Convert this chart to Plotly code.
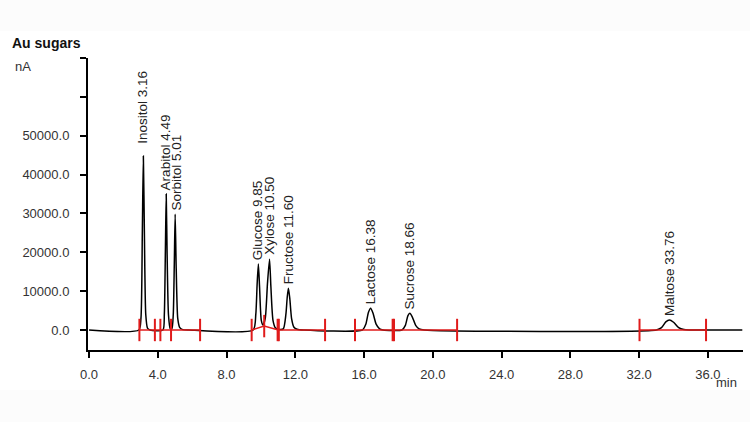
import plotly.graph_objects as go

# ---- data ----
# chromatogram trace (min, nA)
time_min = [0.0, 2.90, 3.02, 3.10, 3.16, 3.22, 3.30, 3.40, 3.55,
            4.30, 4.38, 4.44, 4.49, 4.54, 4.62, 4.72,
            4.82, 4.90, 4.96, 5.01, 5.07, 5.16, 5.28, 5.45, 5.80,
            9.55, 9.70, 9.78, 9.85, 9.92, 10.02, 10.12,
            10.25, 10.38, 10.50, 10.58, 10.70, 10.85, 11.00,
            11.30, 11.45, 11.53, 11.60, 11.68, 11.78, 11.92, 12.10, 12.50,
            15.90, 16.10, 16.25, 16.38, 16.52, 16.70, 16.90, 17.10,
            18.20, 18.40, 18.55, 18.66, 18.80, 19.00, 19.20, 19.50,
            33.00, 33.30, 33.55, 33.76, 34.00, 34.30, 34.60, 34.90, 38.0]
signal_nA = [0, 0, 3000, 25000, 44800, 25000, 4000, 500, 0,
             0, 4000, 20000, 35000, 20000, 4000, 400,
             300, 4000, 17000, 29800, 16000, 3000, 600, 100, 0,
             0, 4000, 12000, 17000, 11000, 2500, 1300,
             3000, 12000, 18200, 11000, 2500, 500, 200,
             300, 4000, 8500, 10750, 8000, 3000, 700, 200, 0,
             0, 1500, 4500, 5600, 4300, 1500, 300, 0,
             0, 1200, 3700, 4300, 3400, 1200, 300, 0,
             0, 600, 2100, 2580, 2000, 600, 100, 0, 0]

peak_names = ["Inositol 3.16", "Arabitol 4.49", "Sorbitol 5.01", "Glucose 9.85",
              "Xylose 10.50", "Fructose 11.60", "Lactose 16.38", "Sucrose 18.66",
              "Maltose 33.76"]
peak_times = [3.16, 4.49, 5.01, 9.85, 10.50, 11.60, 16.38, 18.66, 33.76]
peak_heights = [44800, 35000, 29800, 17000, 18200, 10750, 5600, 4300, 2580]
label_x = [3.13, 4.50, 5.08, 9.85, 10.50, 11.60, 16.38, 18.66, 33.76]
label_y = [47000, 35000, 29800, 17000, 18200, 10750, 5600, 4300, 2580]

# integration baselines (segments) and delimiter marks
base_t = [2.93, 6.46, None, 9.46, 10.19, 11.01, 13.73, None, 15.47, 21.41, None, 32.02, 35.89]
base_y = [0, 0, None, 0, 1000, 0, 0, None, 0, 0, None, 0, 0]
mark_t = [2.93, 3.83, 4.15, 4.77, 6.46, 9.46, 10.19, 10.97, 11.04, 13.73,
          15.47, 17.66, 17.74, 21.41, 32.02, 35.89]
mark_y = [0, 0, 0, 0, 0, 0, 1000, 0, 0, 0, 0, 0, 0, 0, 0, 0]

y_ticks = [0, 10000, 20000, 30000, 40000, 50000, 60000, 70000]
y_ticktext = ["0.0", "10000.0", "20000.0", "30000.0", "40000.0", "50000.0", "", ""]
x_ticks = [0, 4, 8, 12, 16, 20, 24, 28, 32, 36]
x_ticktext = ["0.0", "4.0", "8.0", "12.0", "16.0", "20.0", "24.0", "28.0", "32.0", "36.0"]

FONT = "Liberation Sans, Arial, sans-serif"
RED = "#e01b1b"

fig = go.Figure()
fig.add_trace(go.Scatter(x=time_min, y=signal_nA, mode="lines",
                         line=dict(color="black", width=1.5, shape="spline", smoothing=0.6),
                         hoverinfo="skip"))
fig.add_trace(go.Scatter(x=base_t, y=base_y, mode="lines",
                         line=dict(color=RED, width=1.6), connectgaps=False,
                         hoverinfo="skip"))
fig.add_trace(go.Scatter(x=mark_t, y=mark_y, mode="markers",
                         marker=dict(symbol="line-ns-open", size=16, color=RED,
                                     line=dict(color=RED, width=2)),
                         hoverinfo="skip"))

for name, lx, ly in zip(peak_names, label_x, label_y):
    fig.add_annotation(x=lx, y=ly, text=name, showarrow=False, textangle=-90,
                       xanchor="center", yanchor="bottom", yshift=2,
                       font=dict(family=FONT, size=13.5, color="#222"))

fig.add_annotation(xref="paper", yref="paper", x=-0.119, y=1.017, xanchor="left",
                   yanchor="bottom", text="<b>Au sugars</b>", showarrow=False,
                   font=dict(family=FONT, size=14, color="#111"))
fig.add_annotation(xref="paper", yref="paper", x=-0.114, y=0.97, xanchor="left",
                   yanchor="middle", text="nA", showarrow=False,
                   font=dict(family=FONT, size=13, color="#333"))
fig.add_annotation(xref="paper", yref="paper", x=0.975, y=-0.11, xanchor="center",
                   yanchor="middle", text="min", showarrow=False,
                   font=dict(family=FONT, size=13, color="#333"))

# faint grey bands at the top and bottom of the picture
fig.add_shape(type="rect", xref="paper", yref="paper", x0=-0.2, x1=1.2,
              y0=1.0925, y1=1.3, fillcolor="#fcfcfc", line_width=0, layer="below")
fig.add_shape(type="rect", xref="paper", yref="paper", x0=-0.2, x1=1.2,
              y0=-0.3, y1=-0.137, fillcolor="#fcfcfc", line_width=0, layer="below")

fig.update_layout(
    width=750, height=422,
    margin=dict(l=88, r=7, t=58, b=72),
    paper_bgcolor="white", plot_bgcolor="white",
    showlegend=False,
    font=dict(family=FONT, size=13, color="#333"),
    xaxis=dict(range=[-0.06, 38.04], tickmode="array", tickvals=x_ticks,
               ticktext=x_ticktext, showgrid=False, zeroline=False,
               showline=True, linecolor="black", linewidth=2,
               ticks="outside", ticklen=6, tickwidth=2, tickcolor="black",
               ticklabelstandoff=5, tickfont=dict(size=13, color="#333")),
    yaxis=dict(range=[-5150, 70000], tickmode="array", tickvals=y_ticks,
               ticktext=y_ticktext, showgrid=False, zeroline=False,
               showline=True, linecolor="black", linewidth=2,
               ticks="outside", ticklen=6, tickwidth=2, tickcolor="black",
               ticklabelstandoff=8, tickfont=dict(size=13, color="#333")),
)

fig.write_html("out.html")
